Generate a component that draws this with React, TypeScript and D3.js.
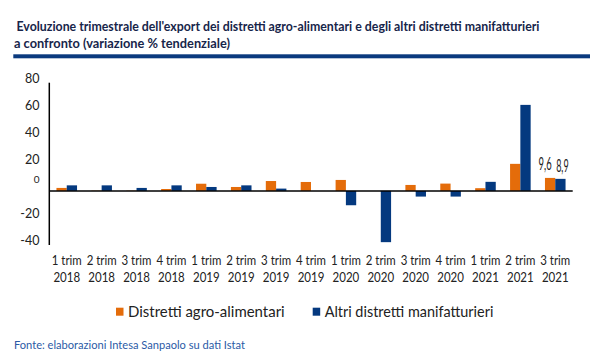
import React, { useEffect, useRef } from "react";
import * as d3 from "d3";

// quarters on the x axis (two lines each)
const quarters = ["1 trim", "2 trim", "3 trim", "4 trim", "1 trim", "2 trim", "3 trim", "4 trim", "1 trim", "2 trim", "3 trim", "4 trim", "1 trim", "2 trim", "3 trim"];
const years = ["2018", "2018", "2018", "2018", "2019", "2019", "2019", "2019", "2020", "2020", "2020", "2020", "2021", "2021", "2021"];

// % change vs same quarter of previous year
const agroValues = [2.2, 0.2, 0.2, 1.4, 5.3, 2.9, 7.3, 6.6, 8.1, 0, 4.4, 5.4, 2.0, 20.0, 9.6];
const altriValues = [4.1, 4.1, 2.2, 4.1, 2.9, 4.1, 1.7, 0, -10.6, -37.9, -4.2, -4.2, 6.7, 63.6, 8.9];

const seriesNames = ["Distretti agro-alimentari", "Altri distretti manifatturieri"];
const yTicks = [-40, -20, 0, 20, 40, 60, 80];

const ORANGE = "#e46c0a";
const BLUE = "#04397f";
const FONT = "Lato, 'Open Sans', sans-serif";

const App = () => {
  const ref = useRef(null);

  useEffect(() => {
    const svg = d3.select(ref.current);
    svg.selectAll("*").remove();

    const W = 600;
    const H = 360;
    svg.attr("width", W).attr("height", H).style("background", "#fff");

    // title
    svg.append("text")
      .attr("x", 16.5).attr("y", 31)
      .attr("font-family", FONT).attr("font-weight", 700).attr("font-size", 13.5)
      .attr("fill", "#17254a")
      .attr("textLength", 523).attr("lengthAdjust", "spacingAndGlyphs")
      .text("Evoluzione trimestrale dell'export dei distretti agro-alimentari e degli altri distretti manifatturieri");
    svg.append("text")
      .attr("x", 14).attr("y", 47.5)
      .attr("font-family", FONT).attr("font-weight", 700).attr("font-size", 13.5)
      .attr("fill", "#17254a")
      .attr("textLength", 216).attr("lengthAdjust", "spacingAndGlyphs")
      .text("a confronto (variazione % tendenziale)");
    svg.append("rect")
      .attr("x", 13.3).attr("y", 54.3).attr("width", 576.7).attr("height", 4)
      .attr("fill", "#0b3a7e");

    // scales
    const left = 49.3;
    const right = 572.7;
    const x = d3.scaleBand()
      .domain(d3.range(quarters.length))
      .range([left, right])
      .paddingInner(0.41)
      .paddingOuter(0.205);
    const xInner = d3.scaleBand().domain([0, 1]).range([0, x.bandwidth()]);
    const y = d3.scaleLinear().domain([-40, 80]).range([245, 82.7]);

    // bars
    const series = [agroValues, altriValues];
    const colors = [ORANGE, BLUE];
    series.forEach((vals, s) => {
      svg.append("g").selectAll("rect")
        .data(vals)
        .enter()
        .append("rect")
        .attr("x", (d, i) => x(i) + xInner(s))
        .attr("width", xInner.bandwidth())
        .attr("y", (d) => y(Math.max(0, d)))
        .attr("height", (d) => Math.abs(y(d) - y(0)))
        .attr("fill", colors[s]);
    });

    // y axis line + zero line
    svg.append("line")
      .attr("x1", left).attr("x2", left)
      .attr("y1", y(80)).attr("y2", y(-40))
      .attr("stroke", "#000").attr("stroke-width", 1.5);
    svg.append("line")
      .attr("x1", left).attr("x2", right)
      .attr("y1", y(0)).attr("y2", y(0))
      .attr("stroke", "#000").attr("stroke-width", 1.5);

    // y tick labels
    svg.append("g").selectAll("text")
      .data(yTicks)
      .enter()
      .append("text")
      .attr("x", 39.5)
      .attr("y", (d) => (d === 0 ? y(d) - 11 : y(d) - 4))
      .attr("dy", "0.35em")
      .attr("text-anchor", "end")
      .attr("font-family", FONT).attr("font-size", (d) => (d === 0 ? 10 : 12.5))
      .attr("fill", "#222")
      .text((d) => d);

    // x labels
    const xl = svg.append("g");
    quarters.forEach((q, i) => {
      const cx = x(i) + x.bandwidth() / 2;
      xl.append("text")
        .attr("x", cx).attr("y", 260).attr("dy", "0.35em")
        .attr("text-anchor", "middle")
        .attr("font-family", FONT).attr("font-size", 13.5).attr("fill", "#222")
        .attr("textLength", 30).attr("lengthAdjust", "spacingAndGlyphs")
        .text(q);
      xl.append("text")
        .attr("x", cx).attr("y", 277.3).attr("dy", "0.35em")
        .attr("text-anchor", "middle")
        .attr("font-family", FONT).attr("font-size", 13.5).attr("fill", "#222")
        .attr("textLength", 26.7).attr("lengthAdjust", "spacingAndGlyphs")
        .text(years[i]);
    });

    // data labels on last quarter
    const last = quarters.length - 1;
    svg.append("text")
      .attr("x", x(last) + xInner(0) + xInner.bandwidth() / 2 - 5)
      .attr("y", 164).attr("dy", "0.35em")
      .attr("text-anchor", "middle")
      .attr("font-family", FONT).attr("font-size", 16.5).attr("fill", "#222")
      .attr("textLength", 13).attr("lengthAdjust", "spacingAndGlyphs")
      .text(String(agroValues[last]).replace(".", ","));
    svg.append("text")
      .attr("x", x(last) + xInner(1) + xInner.bandwidth() / 2 + 2)
      .attr("y", 166.5).attr("dy", "0.35em")
      .attr("text-anchor", "middle")
      .attr("font-family", FONT).attr("font-size", 16.5).attr("fill", "#222")
      .attr("textLength", 12.5).attr("lengthAdjust", "spacingAndGlyphs")
      .text(String(altriValues[last]).replace(".", ","));

    // legend
    const legendX = [116, 312.7];
    const legendW = [156.7, 168.7];
    seriesNames.forEach((name, s) => {
      svg.append("rect")
        .attr("x", legendX[s]).attr("y", 307.7)
        .attr("width", 7.5).attr("height", 8)
        .attr("fill", colors[s]);
      svg.append("text")
        .attr("x", legendX[s] + 12).attr("y", 311.5).attr("dy", "0.35em")
        .attr("font-family", FONT).attr("font-size", 16).attr("fill", "#222")
        .attr("textLength", legendW[s]).attr("lengthAdjust", "spacingAndGlyphs")
        .text(name);
    });

    // source
    svg.append("text")
      .attr("x", 14).attr("y", 345).attr("dy", "0.35em")
      .attr("font-family", FONT).attr("font-size", 11).attr("fill", "#2b5aa6")
      .attr("textLength", 231).attr("lengthAdjust", "spacingAndGlyphs")
      .text("Fonte: elaborazioni Intesa Sanpaolo su dati Istat");
  });

  return (
    <svg ref={ref} style={{ position: "absolute", left: 0, top: 0 }}></svg>
  );
};

export default App;
